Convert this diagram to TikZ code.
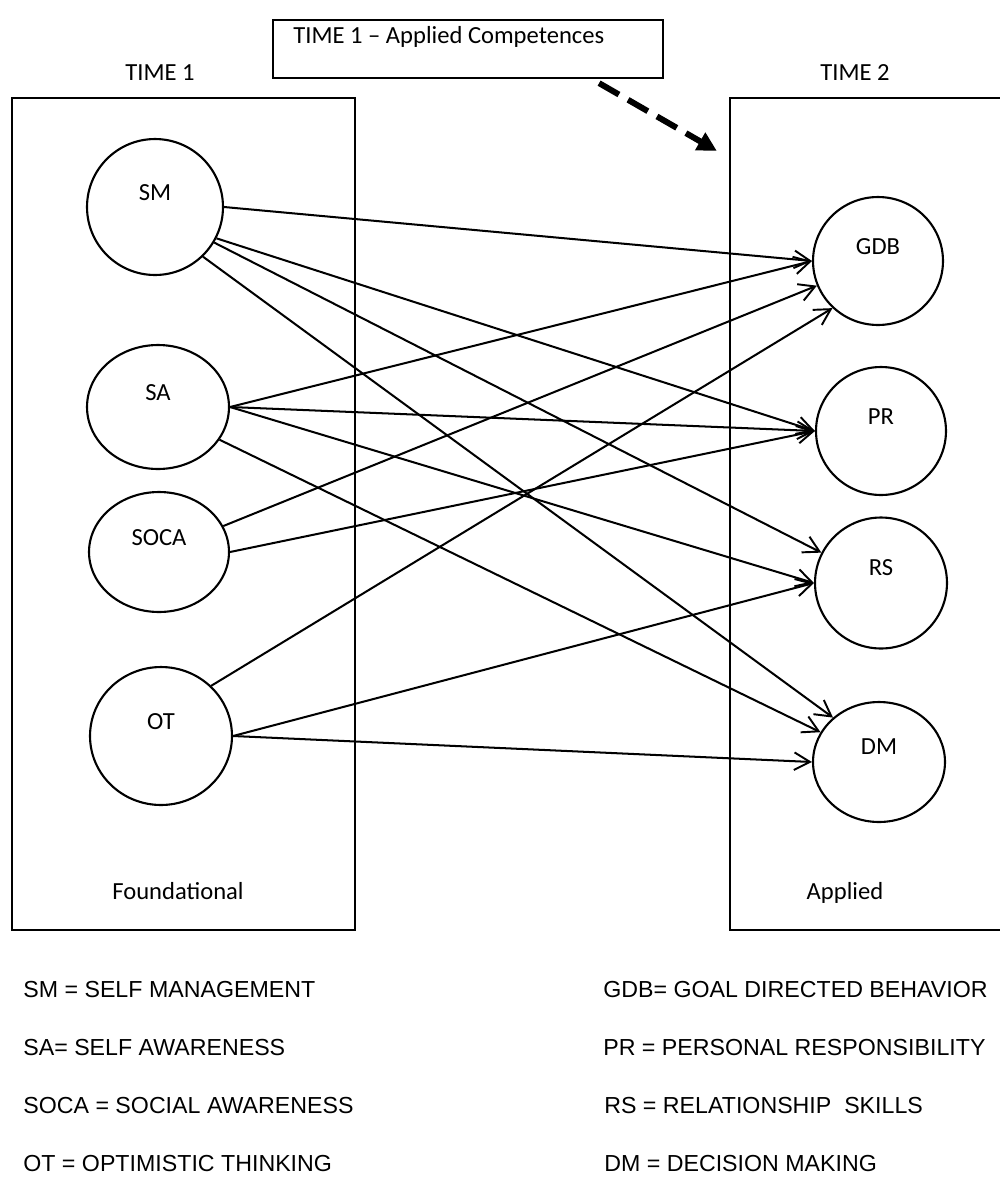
\documentclass[tikz,border=0pt]{standalone}
\usepackage{fontspec}
\newfontfamily\calibri{Carlito}
\newfontfamily\arial{Liberation Sans}
\usetikzlibrary{arrows.meta,shapes.geometric}
\tikzset{
	comp/.style 2 args={draw, ellipse, line width=1.2pt, minimum width=#1, minimum height=#2, inner sep=0pt},
	tag/.style={font=\calibri\fontsize{14}{16}\selectfont},
	legend/.style={font=\arial\fontsize{13.2}{15}\selectfont, anchor=base west, inner sep=0pt},
	frame/.style={draw, line width=1.3pt, inner sep=0pt},
	link/.style={line width=1.15pt, -{Straight Barb[length=9pt,width=10pt,line width=1.1pt]}},
	cuearrow/.style={line width=3.4pt, dash pattern=on 13pt off 6pt, -{Triangle[length=11pt,width=11pt]}}
}

\begin{document}
\begin{tikzpicture}[x=0.02cm, y=-0.02cm]
		%%%%% START %%%%%
		\useasboundingbox (0,0) rectangle (1000,1177);
		
		\node[frame, minimum width=7.8cm, minimum height=1.16cm] (apcomp) at (468,49) {};
		\node[tag, anchor=base west, inner sep=0pt] (aptext) at (293,43) {TIME 1 – Applied Competences};
		
		\node[tag, anchor=base] (t1) at (160,80) {TIME 1};
		\node[tag, anchor=base] (t2) at (855,80) {TIME 2};
		
		\node[frame, minimum width=6.86cm, minimum height=16.64cm] (found) at (183.5,514) {};
		\node[frame, minimum width=5.6cm, minimum height=16.64cm] (appl) at (870,514) {};
		\node[tag, anchor=base] (foundtext) at (178,899) {Foundational};
		\node[tag, anchor=base] (appltext) at (845,899) {Applied};
		
		\coordinate (cue) at ([shift={(-12,54)}]appl.north west);
		\draw[cuearrow] ([shift={(-65,4)}]apcomp.south east) -- (cue);
		
		\node[comp={2.72cm}{2.72cm}, label={[tag,yshift=0.28cm]center:SM}] (SM) at (155,207) {};
		\node[comp={2.84cm}{2.48cm}, label={[tag,yshift=0.28cm]center:SA}] (SA) at (158,407) {};
		\node[comp={2.80cm}{2.40cm}, label={[tag,yshift=0.28cm]center:SOCA}] (SOCA) at (159,552) {};
		\node[comp={2.84cm}{2.76cm}, label={[tag,yshift=0.28cm]center:OT}] (OT) at (161,736) {};
		
		\node[comp={2.60cm}{2.56cm}, label={[tag,yshift=0.28cm]center:GDB}] (GDB) at (878,261) {};
		\node[comp={2.60cm}{2.56cm}, label={[tag,yshift=0.28cm]center:PR}] (PR) at (881,431) {};
		\node[comp={2.64cm}{2.62cm}, label={[tag,yshift=0.3cm]center:RS}] (RS) at (881,583) {};
		\node[comp={2.64cm}{2.40cm}, label={[tag,yshift=0.3cm]center:DM}] (DM) at (879,762) {};
		
		\draw[link] (SM.0) -- (GDB.180);
		\draw[link] (SM.-27) -- (PR.180);
		\draw[link] (SM.-31) -- (RS.153);
		\draw[link] (SM.-46) -- (DM.136);
		
		\draw[link] (SA.0) -- (GDB.180);
		\draw[link] (SA.0) -- (PR.180);
		\draw[link] (SA.0) -- (RS.180);
		\draw[link] (SA.-28) -- (DM.153);
		
		\draw[link] (SOCA.22) -- (GDB.202);
		\draw[link] (SOCA.0) -- (PR.180);
		
		\draw[link] (OT.45) -- (GDB.226);
		\draw[link] (OT.0) -- (RS.180);
		\draw[link] (OT.0) -- (DM.180);
		
		\node[legend] (lgSM) at (23,997) {SM = SELF MANAGEMENT};
		\node[legend] (lgSA) at (23,1055) {SA= SELF AWARENESS};
		\node[legend] (lgSOCA) at (23,1113) {SOCA = SOCIAL AWARENESS};
		\node[legend] (lgOT) at (23,1171) {OT = OPTIMISTIC THINKING};
		\node[legend] (lgGDB) at (603,997) {GDB= GOAL DIRECTED BEHAVIOR};
		\node[legend] (lgPR) at (603,1055) {PR = PERSONAL RESPONSIBILITY};
		\node[legend] (lgRS) at (604,1113) {RS = RELATIONSHIP\ \ SKILLS};
		\node[legend] (lgDM) at (604,1171) {DM = DECISION MAKING};
		%%%%% END %%%%%
\end{tikzpicture}
\end{document}
